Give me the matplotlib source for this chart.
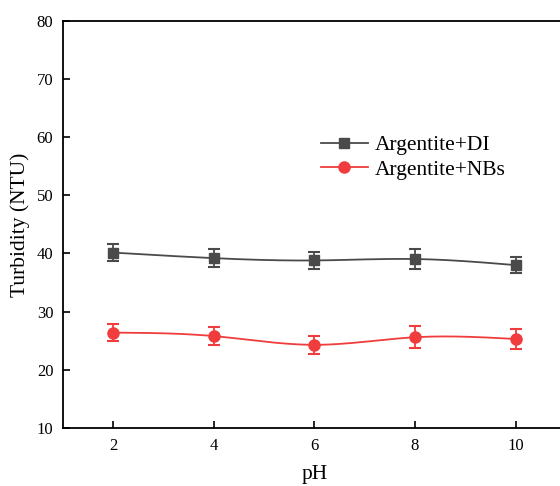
import numpy as np
import matplotlib
matplotlib.use("Agg")
import matplotlib.pyplot as plt

plt.rcParams['font.family'] = ['Liberation Serif', 'DejaVu Serif']
plt.rcParams['mathtext.fontset'] = 'stix'

# turbidity vs pH, mean and error
ph = [2, 4, 6, 8, 10]
di_mean = [40.15, 39.2, 38.8, 39.05, 38.0]
di_err = [1.45, 1.6, 1.45, 1.7, 1.4]
nb_mean = [26.4, 25.8, 24.3, 25.6, 25.3]
nb_err = [1.45, 1.5, 1.6, 1.9, 1.8]


def natural_spline(x, y, n=200):
    """Natural cubic spline through (x, y), sampled at n points."""
    x = np.asarray(x, float)
    y = np.asarray(y, float)
    k = len(x)
    h = np.diff(x)
    A = np.zeros((k, k))
    b = np.zeros(k)
    A[0, 0] = A[-1, -1] = 1.0
    for i in range(1, k - 1):
        A[i, i - 1] = h[i - 1]
        A[i, i] = 2 * (h[i - 1] + h[i])
        A[i, i + 1] = h[i]
        b[i] = 3 * ((y[i + 1] - y[i]) / h[i] - (y[i] - y[i - 1]) / h[i - 1])
    c = np.linalg.solve(A, b)
    xs = np.linspace(x[0], x[-1], n)
    ys = np.empty_like(xs)
    for j, xv in enumerate(xs):
        i = min(np.searchsorted(x, xv, side='right') - 1, k - 2)
        dx = xv - x[i]
        bi = (y[i + 1] - y[i]) / h[i] - h[i] * (2 * c[i] + c[i + 1]) / 3
        di = (c[i + 1] - c[i]) / (3 * h[i])
        ys[j] = y[i] + bi * dx + c[i] * dx ** 2 + di * dx ** 3
    return xs, ys


fig = plt.figure(figsize=(5.6, 4.86), dpi=100)
ax = fig.add_axes([0.1125, 0.1193, 0.898, 0.838])

series = [
    (di_mean, di_err, '#4a4a4a', 's', 7, 'Argentite+DI'),
    (nb_mean, nb_err, '#f03c3c', 'o', 8, 'Argentite+NBs'),
]
for mean, err, color, marker, ms, label in series:
    xs, ys = natural_spline(ph, mean)
    ax.plot(xs, ys, color=color, lw=1.3, zorder=2)
    ax.errorbar(ph, mean, yerr=err, fmt='none', ecolor=color,
                elinewidth=1.3, capsize=4.5, capthick=1.5, zorder=3)
    ax.plot(ph, mean, marker=marker, ms=ms, color=color, ls='none', zorder=4)
    # legend proxy with line + marker
    ax.plot([], [], color=color, lw=1.3, marker=marker, ms=ms, label=label)

ax.set_xlim(1, 11)
ax.set_ylim(10, 80)
ax.set_xticks(ph)
ax.set_yticks(range(10, 81, 10))
ax.tick_params(direction='in', length=5, width=1.2, labelsize=12, pad=7)
for sp in ax.spines.values():
    sp.set_linewidth(1.3)

ax.set_xlabel('pH', fontsize=15.5, labelpad=8)
ax.set_ylabel('Turbidity (NTU)', fontsize=15.5, labelpad=5)

ax.legend(loc='upper left', bbox_to_anchor=(0.474, 0.766), frameon=False,
          fontsize=15.5, handlelength=2.2, handletextpad=0.3,
          labelspacing=0.2)

fig.savefig('out.png', dpi=100)
